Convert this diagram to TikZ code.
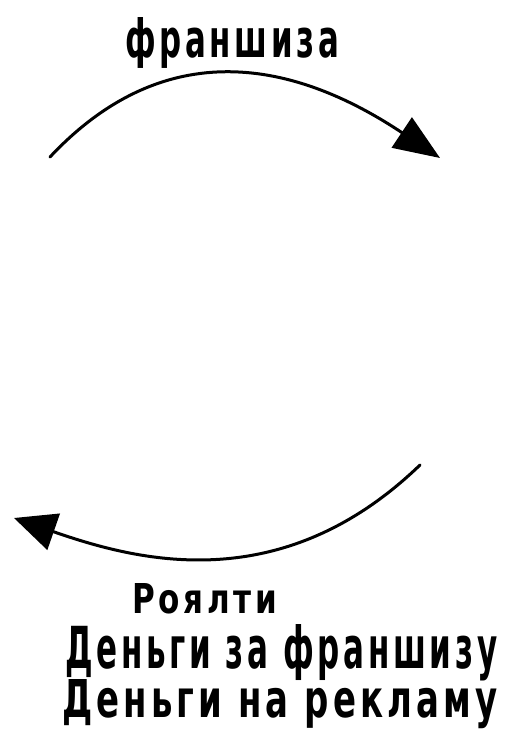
\documentclass[tikz,border=0pt]{standalone}
\usepackage{fontspec}
\setmainfont{DejaVu Sans}
\newfontfamily\handfont[LetterSpace=12]{DejaVu Sans}
\usetikzlibrary{arrows.meta}
\tikzset{
  arc/.style={line width=3pt, line cap=round},
  lbl/.style={inner sep=0pt, anchor=base west, font=\handfont\bfseries},
}
\begin{document}
\begin{tikzpicture}[x=1pt,y=-1pt]
\useasboundingbox (0,0) rectangle (504,751);
\fill[white] (0,0) rectangle (504,751);
% arc end points
\coordinate (t1) at (50,157);
\coordinate (t2) at (440,158);
\coordinate (b1) at (420,465);
\coordinate (b2) at (14,518);
% top arc
\draw[arc, -{Triangle[length=46pt,width=36pt]}] (t1) .. controls (172,27) and (305,68) .. (t2);
% bottom arc
\draw[arc, -{Triangle[length=42pt,width=38pt]}] (b1) .. controls (280,600) and (135,560) .. (b2);
% labels
\node[lbl] (top) at (125,58) {\resizebox{214pt}{40pt}{франшиза}};
\node[lbl] (l1) at (132,613) {\resizebox{145pt}{30pt}{Роялти}};
\node[lbl] (l2) at (65,668) {\resizebox{432pt}{44pt}{Деньги за франшизу}};
\node[lbl] (l3) at (62,717) {\resizebox{435pt}{38pt}{Деньги на рекламу}};
\end{tikzpicture}
\end{document}
